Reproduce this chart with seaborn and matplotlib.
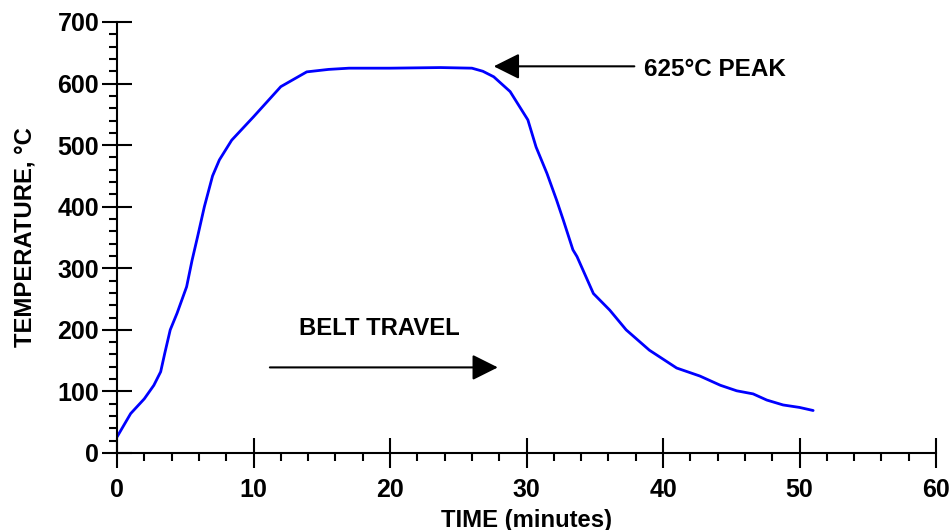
import matplotlib
matplotlib.use('Agg')
import matplotlib.pyplot as plt
from matplotlib.ticker import MultipleLocator
import pandas as pd
import seaborn as sns

# furnace profile
time_min = [0, 0.5, 1.0, 2.0, 2.7, 3.2, 3.5, 3.9, 4.4, 5.1, 5.5, 5.9, 6.4, 7.0, 7.5,
            8.4, 10.0, 12.0, 13.9, 15.5, 17.0, 20.0, 23.7, 26.0, 26.8, 27.6, 28.8,
            30.1, 30.7, 31.5, 32.2, 32.7, 33.4, 33.7, 34.9, 36.1, 37.3, 39.0, 41.0,
            42.7, 44.2, 45.4, 46.6, 47.6, 48.8, 50.0, 51.0]
temp_c = [26, 45, 64, 88, 110, 132, 162, 200, 227, 270, 313, 351, 400, 450, 476,
          508, 546, 595, 619, 623, 625, 625, 626, 625, 620, 611, 587,
          541, 497, 454, 411, 378, 330, 319, 259, 232, 200, 167, 138,
          125, 110, 101, 96, 86, 78, 74, 69]

x_ticks = [0, 10, 20, 30, 40, 50, 60]
y_ticks = [0, 100, 200, 300, 400, 500, 600, 700]

sns.set_style('ticks')
plt.rcParams['font.family'] = ['Liberation Sans', 'DejaVu Sans']
plt.rcParams['font.weight'] = 'bold'
plt.rcParams['text.color'] = 'black'
plt.rcParams['axes.labelcolor'] = 'black'
plt.rcParams['xtick.color'] = 'black'
plt.rcParams['ytick.color'] = 'black'

df = pd.DataFrame({'time': time_min, 'temp': temp_c})

fig = plt.figure(figsize=(9.52, 5.30), dpi=100)
ax = fig.add_axes([0.1229, 0.1453, 0.8603, 0.8132])

sns.lineplot(data=df, x='time', y='temp', color='#0000ff', linewidth=2,
             estimator=None, sort=False, ax=ax)

ax.set_xlim(0, 60)
ax.set_ylim(0, 700)
ax.set_xticks(x_ticks)
ax.set_yticks(y_ticks)
ax.xaxis.set_minor_locator(MultipleLocator(2))
ax.yaxis.set_minor_locator(MultipleLocator(20))
ax.tick_params(which='major', direction='inout', length=21.6, width=1.5, labelsize=18,
               color='black', labelcolor='black')
ax.tick_params(axis='x', which='major', pad=7)
ax.tick_params(axis='y', which='major', pad=2)
ax.tick_params(which='minor', direction='out', length=6, width=1.5, color='black')
for lab in ax.get_xticklabels() + ax.get_yticklabels():
    lab.set_fontweight('bold')

for s in ['top', 'right']:
    ax.spines[s].set_visible(False)
for s in ['left', 'bottom']:
    ax.spines[s].set_linewidth(1.5)
    ax.spines[s].set_color('black')

ax.set_xlabel('TIME (minutes)', fontsize=17.2, fontweight='bold', labelpad=5)
ax.set_ylabel('TEMPERATURE, °C', fontsize=17.2, fontweight='bold', labelpad=15)

arrow = dict(arrowstyle='-|>,head_length=1.58,head_width=0.79', mutation_scale=10,
             lw=1.5, color='black', shrinkA=0, shrinkB=0)
ax.annotate('', xy=(27.6, 628), xytext=(37.9, 628), arrowprops=arrow)
ax.text(38.6, 623, '625°C PEAK', fontsize=17.5, fontweight='bold', ha='left', va='center')

ax.annotate('', xy=(27.9, 139), xytext=(11.2, 139), arrowprops=arrow)
ax.text(19.2, 202, 'BELT TRAVEL', fontsize=17.2, fontweight='bold', ha='center', va='center')

fig.savefig('out.png', dpi=100)
